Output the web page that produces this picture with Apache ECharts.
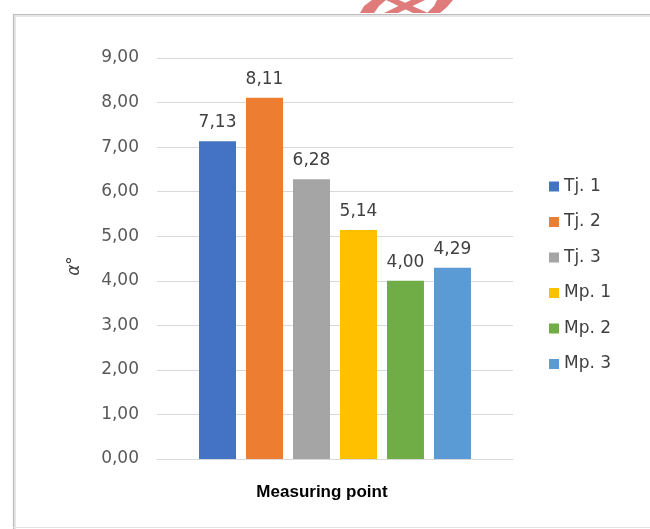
<!DOCTYPE html>
<html>
<head>
<meta charset="utf-8">
<script src="https://cdn.jsdelivr.net/npm/echarts@6/dist/echarts.min.js"></script>
<style>
html,body{margin:0;padding:0;background:#fff;}
#main{width:650px;height:529px;}
</style>
</head>
<body>
<div id="main"></div>
<script>
const seriesNames = ['Tj. 1', 'Tj. 2', 'Tj. 3', 'Mp. 1', 'Mp. 2', 'Mp. 3'];
const seriesValues = [7.13, 8.11, 6.28, 5.14, 4.00, 4.29];
const seriesColors = ['#4472C4', '#ED7D31', '#A5A5A5', '#FFC000', '#70AD47', '#5B9BD5'];
const categories = [''];
const yMin = 0, yMax = 9, yStep = 1;
const xAxisTitle = 'Measuring point';
const yAxisTitle = 'α°';

const fmt = v => Number(v).toFixed(2).replace('.', ',');
const FONT = 'DejaVu Sans';

const chart = echarts.init(document.getElementById('main'), null, {renderer: 'canvas'});
const series = seriesNames.map((n, i) => ({
  name: n,
  type: 'bar',
  data: [seriesValues[i]],
  barWidth: 37,
  barGap: '27%',
  itemStyle: {color: seriesColors[i]},
  label: {
    show: true, position: 'top', distance: 10,
    formatter: p => fmt(p.value),
    fontFamily: FONT, fontSize: 17, color: '#404040'
  }
}));

chart.setOption({
  animation: false,
  backgroundColor: '#fff',
  graphic: [
    {type: 'polyline', z: -5, shape: {points: [[14.5, 530], [14.5, 15.5], [660, 15.5]]},
     style: {fill: null, stroke: '#e6e6e6', lineWidth: 3}},
    {type: 'polyline', z: -4, shape: {points: [[13.5, 530], [13.5, 14.5], [660, 14.5]]},
     style: {fill: null, stroke: '#bdbdbd', lineWidth: 1.2}},
    {type: 'line', z: -4, shape: {x1: 13, y1: 527.5, x2: 660, y2: 527.5},
     style: {stroke: '#e2e2e2', lineWidth: 1}},
    {type: 'polygon', z: 100, shape: {points: [[372,0],[386,0],[379,6],[374,13],[360,13],[364,6]]}, style: {fill: '#e07b7b'}},
    {type: 'polygon', z: 100, shape: {points: [[386,0],[399,0],[428,13],[413,13]]}, style: {fill: '#e07b7b'}},
    {type: 'polygon', z: 100, shape: {points: [[411,0],[425,0],[398,13],[384,13]]}, style: {fill: '#e07b7b'}},
    {type: 'polygon', z: 100, shape: {points: [[437,0],[453,0],[447,7],[440,13],[427,13],[434,6]]}, style: {fill: '#e07b7b'}},
    {type: 'text', z: 50, style: {
      text: xAxisTitle, x: 322, y: 492, textAlign: 'center', textVerticalAlign: 'middle',
      fontFamily: 'Liberation Sans', fontWeight: 'bold', fontSize: 17, fill: '#000'}},
    {type: 'text', z: 50, x: 75, y: 266, rotation: Math.PI / 2, style: {
      text: yAxisTitle, x: 0, y: 0, textAlign: 'center', textVerticalAlign: 'middle',
      fontFamily: FONT, fontStyle: 'italic', fontSize: 17, fill: '#404040'}}
  ],
  legend: {
    orient: 'vertical', left: 549, top: 178, padding: 0,
    itemWidth: 10, itemHeight: 10, itemGap: 18.5,
    icon: 'rect',
    data: seriesNames,
    textStyle: {fontFamily: FONT, fontSize: 17, color: '#404040'}
  },
  grid: {left: 157, right: 137, top: 58, bottom: 70, containLabel: false},
  xAxis: {
    type: 'category', data: categories,
    axisLine: {show: true, lineStyle: {color: '#d9d9d9', width: 1}},
    axisTick: {show: false}, axisLabel: {show: false}
  },
  yAxis: {
    type: 'value', min: yMin, max: yMax, interval: yStep,
    axisLine: {show: false}, axisTick: {show: false},
    axisLabel: {formatter: v => fmt(v), margin: 18, fontFamily: FONT, fontSize: 17, color: '#595959'},
    splitLine: {lineStyle: {color: '#d9d9d9', width: 1}}
  },
  series: series
});
</script>
</body>
</html>
